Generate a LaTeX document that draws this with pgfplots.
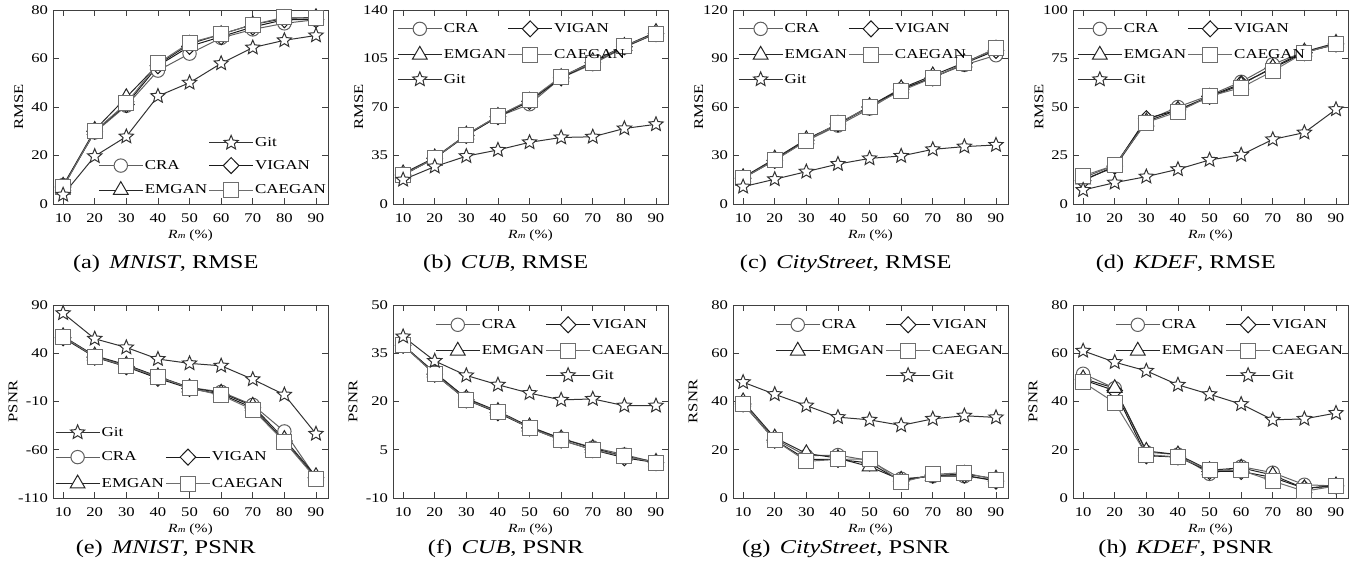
\documentclass[border=0pt]{standalone}
\usepackage{fontspec}
\setmainfont[FakeStretch=1.25]{Liberation Serif}
\newfontfamily\plainserif{Liberation Serif}
\usepackage{graphicx}
\usepackage{pgfplots}
\usepackage{pgfplotstable}
\pgfplotsset{compat=1.18}

\definecolor{craC}{HTML}{606060}
\definecolor{viganC}{HTML}{1A1A1A}
\definecolor{emganC}{HTML}{262626}
\definecolor{caeganC}{HTML}{6E6E6E}
\definecolor{gitC}{HTML}{333333}
\definecolor{axC}{HTML}{404040}

% open five-pointed star
\pgfdeclareplotmark{ostar}{%
  \pgfpathmoveto{\pgfpointpolar{90}{\pgfplotmarksize}}%
  \pgfpathlineto{\pgfpointpolar{126}{0.45\pgfplotmarksize}}%
  \pgfpathlineto{\pgfpointpolar{162}{\pgfplotmarksize}}%
  \pgfpathlineto{\pgfpointpolar{198}{0.45\pgfplotmarksize}}%
  \pgfpathlineto{\pgfpointpolar{234}{\pgfplotmarksize}}%
  \pgfpathlineto{\pgfpointpolar{270}{0.45\pgfplotmarksize}}%
  \pgfpathlineto{\pgfpointpolar{306}{\pgfplotmarksize}}%
  \pgfpathlineto{\pgfpointpolar{342}{0.45\pgfplotmarksize}}%
  \pgfpathlineto{\pgfpointpolar{18}{\pgfplotmarksize}}%
  \pgfpathlineto{\pgfpointpolar{54}{0.45\pgfplotmarksize}}%
  \pgfpathclose
  \pgfusepathqfillstroke}

% x cra vigan emgan caegan git
\pgfplotstableread{
x cra vigan emgan caegan git
10 7.8 7 7.5 7 3.8
20 29.5 30 30.5 30 19.7
30 40.5 41 44 41.5 27.8
40 55 57 57.5 58 44.5
50 62 65 66 66.5 50
60 68.5 69 70 70 58
70 72 73 74 74 64.5
80 74.5 76 76.5 77 67.5
90 76 76 77 76.5 69.5
}\mnistrmse
\pgfplotstableread{
x cra vigan emgan caegan git
10 21 21 22 21 17.5
20 33 33 33.5 33 27
30 49.5 49.5 50 50 34.5
40 63 63 63.5 63.5 39
50 72 74 74.5 75 44.5
60 91 91 91.5 92 48
70 101 102 103 102 48.5
80 113 113.5 114 114 54.5
90 123 123 124 123 57.5
}\cubrmse
\pgfplotstableread{
x cra vigan emgan caegan git
10 16 16 16.5 16 10.7
20 27.5 27 28 27 15.3
30 39 39.5 40 39 20
40 48.5 49.5 49.5 50 24.7
50 59 60 60.5 60 28.2
60 71 71 71.5 70 29.7
70 78.5 78 79.5 78 33.8
80 86 87 87.5 87 35.5
90 92 95 96 96.5 36.5
}\cityrmse
\pgfplotstableread{
x cra vigan emgan caegan git
10 13.5 12 12.5 14.5 7.2
20 20 19.5 19 20 11
30 43 44 42.5 42 14.1
40 50 48.5 48.5 47.5 17.9
50 56 55.5 55 55.5 22.7
60 63 62 61.5 60 25.3
70 72 70 70.5 68.5 33.3
80 78.5 78 78.5 78 36.8
90 82 82.5 83 82.5 48.8
}\kdefrmse
\pgfplotstableread{
x cra vigan emgan caegan git
10 57 56 57.5 57 81.5
20 37 36 37.5 36.5 55
30 27 26 28 26.5 46
40 15 14 16 15.5 34
50 4.5 3.5 4.5 4 29.5
60 0 -2.5 -1 -3.5 27
70 -13.5 -16.5 -14.5 -18.5 13
80 -41 -51 -49 -51.5 -3
90 -89 -89 -87.5 -90 -43.5
}\mnistpsnr
\pgfplotstableread{
x cra vigan emgan caegan git
10 37.5 37.5 37.5 37.5 40.2
20 29 28.5 29 28.5 32.6
30 21 20.5 21 20.5 28.1
40 16.5 16.5 17 16.8 25.2
50 12 11.8 12.2 11.8 22.6
60 8.5 8 8.5 8 20.5
70 5.7 5 5.5 5 20.8
80 3.5 2.5 3 3 18.7
90 1 1 1.2 1 18.7
}\cubpsnr
\pgfplotstableread{
x cra vigan emgan caegan git
10 39 39 40 39 48
20 24.5 24 25 24 43
30 17.5 16 18.5 15.2 38.3
40 17.8 16 16.5 16 33.5
50 15.5 14.5 13 16.2 32.4
60 8 7 7.5 6.5 30.1
70 9 9.5 9.2 9.8 32.8
80 9 9.5 10 10.5 34.1
90 7.5 7 8 7.5 33.4
}\citypsnr
\pgfplotstableread{
x cra vigan emgan caegan git
10 51.5 49 49.5 48 61
20 45.5 44.5 45.5 39.5 56.3
30 19 17.5 19.5 18 52.7
40 18 17 18 17 46.9
50 10 11 11.5 11.5 43
60 13 11 12.5 11.5 38.9
70 10.5 8.5 9.5 7 32.4
80 5.5 4 4 2.8 32.8
90 5 5 5.2 5 35.2
}\kdefpsnr

\pgfplotsset{
  cra/.style={color=craC, line width=1pt, mark=*, mark size=6.7pt, mark options={fill=white, draw=craC}},
  vigan/.style={color=viganC, line width=1pt, mark=diamond*, mark size=8pt, mark options={fill=white, draw=viganC, xscale=1.3}},
  emgan/.style={color=emganC, line width=1pt, mark=triangle*, mark size=8.5pt, mark options={fill=white, draw=emganC}},
  caegan/.style={color=caeganC, line width=1pt, mark=square*, mark size=7.5pt, mark options={fill=white, draw=caeganC}},
  git/.style={color=gitC, line width=1pt, mark=ostar, mark size=7.5pt, mark options={fill=white, draw=gitC}},
  panel/.style={
    scale only axis, width=275pt, anchor=south west,
    xmin=6.8, xmax=93.8, xtick={10,20,...,90},
    clip=false, tick align=inside, tick pos=both,
    major tick length=6pt,
    axis line style={draw=axC, line width=0.8pt},
    every tick/.style={draw=axC, line width=0.8pt},
    /pgf/number format/assume math mode=true,
    tick label style={font=\fontsize{13.3}{14}\selectfont},
    xticklabel style={yshift=-6.6pt},
    yticklabel style={xshift=-1.5pt},
    every axis x label/.style={at={(axis description cs:0.5,0)}, anchor=base, yshift=-35pt, font=\fontsize{12.5}{13}\selectfont},
    every axis y label/.style={rotate=90, anchor=center, font=\fontsize{13.3}{14}\selectfont\plainserif},
    xlabel={\textit{R}{\fontsize{8.5}{9}\selectfont\textit{m}} (\%)},
    legend columns=2,
    legend image code/.code={\draw[mark repeat=2,mark phase=2,##1] plot coordinates {(0pt,0pt) (22pt,0pt) (44pt,0pt)};},
    legend style={draw=none, fill=none, inner sep=0pt, anchor=north west, row sep=9.5pt,
      font=\fontsize{13.6}{15}\selectfont, nodes={inner sep=1.5pt}, cells={anchor=west}},
  },
  toprow/.style={height=194pt, every axis y label/.append style={at={(axis description cs:-0.124,0.5)}}},
  botrow/.style={height=193pt, every axis x label/.append style={yshift=1pt}, every axis y label/.append style={at={(axis description cs:-0.145,0.5)}}},
}

\newcommand{\yl}[1]{\scalebox{1.25}[1]{#1}}
\newcommand{\series}[1]{%
  \addplot[cra, forget plot] table[x=x, y=cra] {#1};
  \addplot[vigan, forget plot] table[x=x, y=vigan] {#1};
  \addplot[emgan, forget plot] table[x=x, y=emgan] {#1};
  \addplot[caegan, forget plot] table[x=x, y=caegan] {#1};
  \addplot[git, forget plot] table[x=x, y=git] {#1};
}
\newcommand{\legCRA}{\addlegendimage{cra}\addlegendentry{CRA}}
\newcommand{\legVIGAN}{\addlegendimage{vigan}\addlegendentry{VIGAN}}
\newcommand{\legEMGAN}{\addlegendimage{emgan}\addlegendentry{EMGAN}}
\newcommand{\legCAEGAN}{\addlegendimage{caegan}\addlegendentry{CAEGAN}}
\newcommand{\legGit}{\addlegendimage{git}\addlegendentry{Git}}
\newcommand{\legEmpty}{\addlegendimage{empty legend}\addlegendentry{}}
\newcommand{\capt}[2]{\node[anchor=base, font=\fontsize{19.5}{20}\selectfont] at (axis description cs:0.41,#1) {#2};}

\begin{document}
\begin{tikzpicture}
\useasboundingbox (0,0) rectangle (1358pt,571pt);

% ---- top row: RMSE ----
\begin{axis}[panel, toprow, at={(53pt,367pt)}, ymin=0, ymax=80, ytick={0,20,...,80}, ylabel={\yl{RMSE}},
  legend style={at={(axis description cs:0.164,0.355)}, row sep=8pt}]
\series{\mnistrmse}
\legEmpty\legGit\legCRA\legVIGAN\legEMGAN\legCAEGAN
\capt{-0.33}{(a)\, \textit{MNIST}, RMSE}
\end{axis}

\begin{axis}[panel, toprow, at={(393pt,367pt)}, ymin=0, ymax=140, ytick={0,35,...,140}, ylabel={\yl{RMSE}},
  legend style={at={(axis description cs:0.015,0.945)}}]
\series{\cubrmse}
\legCRA\legVIGAN\legEMGAN\legCAEGAN\legGit
\capt{-0.33}{(b)\, \textit{CUB}, RMSE}
\end{axis}

\begin{axis}[panel, toprow, at={(733pt,367pt)}, ymin=0, ymax=120, ytick={0,30,...,120}, ylabel={\yl{RMSE}},
  legend style={at={(axis description cs:0.018,0.945)}}]
\series{\cityrmse}
\legCRA\legVIGAN\legEMGAN\legCAEGAN\legGit
\capt{-0.33}{(c)\, \textit{CityStreet}, RMSE}
\end{axis}

\begin{axis}[panel, toprow, at={(1073pt,367pt)}, ymin=0, ymax=100, ytick={0,25,...,100}, ylabel={\yl{RMSE}},
  legend style={at={(axis description cs:0.015,0.945)}}]
\series{\kdefrmse}
\legCRA\legVIGAN\legEMGAN\legCAEGAN\legGit
\capt{-0.33}{(d)\, \textit{KDEF}, RMSE}
\end{axis}

% ---- bottom row: PSNR ----
\begin{axis}[panel, botrow, at={(53pt,73pt)}, ymin=-110, ymax=90, ytick={-110,-60,...,90}, ylabel={\yl{PSNR}},
  legend style={at={(axis description cs:0.007,0.38)}, row sep=10pt}]
\series{\mnistpsnr}
\legGit\legEmpty\legCRA\legVIGAN\legEMGAN\legCAEGAN
\capt{-0.29}{(e)\, \textit{MNIST}, PSNR}
\end{axis}

\begin{axis}[panel, botrow, at={(393pt,73pt)}, ymin=-10, ymax=50, ytick={-10,5,...,50}, ylabel={\yl{PSNR}},
  legend style={at={(axis description cs:0.153,0.94)}}]
\series{\cubpsnr}
\legCRA\legVIGAN\legEMGAN\legCAEGAN\legEmpty\legGit
\capt{-0.29}{(f)\, \textit{CUB}, PSNR}
\end{axis}

\begin{axis}[panel, botrow, at={(733pt,73pt)}, ymin=0, ymax=80, ytick={0,20,...,80}, ylabel={\yl{RSNR}},
  legend style={at={(axis description cs:0.153,0.94)}}]
\series{\citypsnr}
\legCRA\legVIGAN\legEMGAN\legCAEGAN\legEmpty\legGit
\capt{-0.29}{(g)\, \textit{CityStreet}, PSNR}
\end{axis}

\begin{axis}[panel, botrow, at={(1073pt,73pt)}, ymin=0, ymax=80, ytick={0,20,...,80}, ylabel={\yl{PSNR}},
  legend style={at={(axis description cs:0.153,0.94)}}]
\series{\kdefpsnr}
\legCRA\legVIGAN\legEMGAN\legCAEGAN\legEmpty\legGit
\capt{-0.29}{(h)\, \textit{KDEF}, PSNR}
\end{axis}
\end{tikzpicture}
\end{document}
